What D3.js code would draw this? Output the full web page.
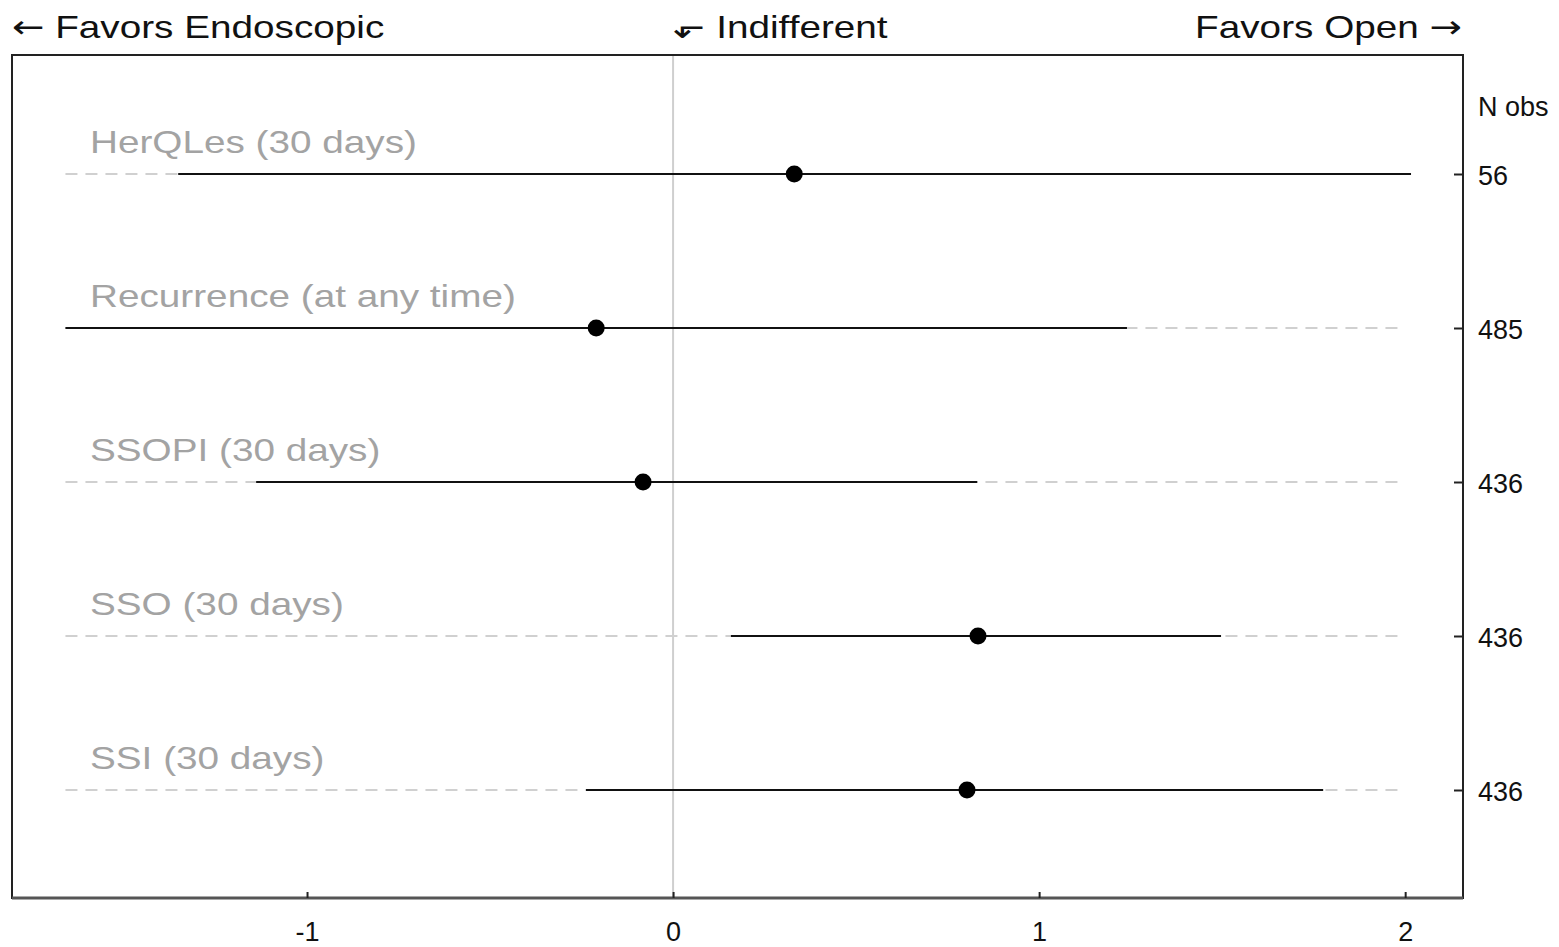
<!DOCTYPE html>
<html><head><meta charset="utf-8">
<script src="https://cdn.jsdelivr.net/npm/d3@7"></script>
<style>body{margin:0;background:#fff}svg{display:block}text{font-family:"Liberation Sans",Arial,sans-serif}</style>
</head><body>
<svg id="c" width="1559" height="947"></svg>
<script>
const outcomes = ["HerQLes (30 days)","Recurrence (at any time)","SSOPI (30 days)","SSO (30 days)","SSI (30 days)"];
const estimates = [0.331,-0.210,-0.082,0.833,0.803];
const lowerCI = [-1.352,-1.66,-1.139,0.158,-0.238];
const upperCI = [2.016,1.240,0.831,1.497,1.776];
const nObs = ["56","485","436","436","436"];
const xTicks = [-1,0,1,2];
const xTickLabels = ["-1","0","1","2"];
const guideRange = [-1.66,2.0];

const svg = d3.select("#c");
const L=12,R=1463,T=55,B=898;
const x = d3.scaleLinear().domain([-1.806,2.158]).range([L,R]);
const y = d3.scalePoint().domain(outcomes).range([174,790]);

function stretchText(px,py,k,parts,size,fill,anchor){
  const t = svg.append("text").attr("transform",`translate(${px},${py}) scale(${k},1)`)
    .attr("font-size",size).attr("fill",fill).attr("text-anchor",anchor||"start");
  (Array.isArray(parts)?parts:[[parts,null]]).forEach(([s,f])=>{
    const ts = t.append("tspan").text(s);
    if(f) ts.style("font-family",f);
  });
  return t;
}

// vertical zero line
svg.append("line").attr("x1",x(0)).attr("x2",x(0)).attr("y1",T).attr("y2",B)
  .attr("stroke","#cfcfcf").attr("stroke-width",2);

// dashed guides
svg.selectAll(".guide").data(outcomes).join("line")
  .attr("x1",x(guideRange[0])).attr("x2",x(guideRange[1]))
  .attr("y1",d=>y(d)).attr("y2",d=>y(d))
  .attr("stroke","#d0d0d0").attr("stroke-width",2).attr("stroke-dasharray","12,8");

// labels
outcomes.forEach(d=>stretchText(90,y(d)-21,1.21,d,32,"#a3a3a3"));

// CI lines
svg.selectAll(".ci").data(outcomes).join("line")
  .attr("x1",(d,i)=>x(lowerCI[i])).attr("x2",(d,i)=>x(upperCI[i]))
  .attr("y1",d=>y(d)).attr("y2",d=>y(d))
  .attr("stroke","#111").attr("stroke-width",2.2);

// points
svg.selectAll(".pt").data(outcomes).join("circle")
  .attr("cx",(d,i)=>x(estimates[i])).attr("cy",d=>y(d)).attr("r",8.5).attr("fill","#000");

// frame
svg.append("rect").attr("x",L).attr("y",T).attr("width",R-L).attr("height",B-T)
  .attr("fill","none").attr("stroke","#222").attr("stroke-width",2);
svg.append("line").attr("x1",L).attr("x2",R).attr("y1",B).attr("y2",B).attr("stroke","#555").attr("stroke-width",3);

// bottom axis
const xa = svg.append("g").attr("transform",`translate(0,${B})`)
  .call(d3.axisBottom(x).tickValues(xTicks).tickSize(-6).tickFormat((d,i)=>xTickLabels[i]));
xa.select(".domain").remove();
xa.selectAll("line").attr("stroke","#222").attr("stroke-width",2);
xa.selectAll("text").attr("y",43).attr("dy",0).attr("font-size",27).attr("fill","#111")
  .style("font-family","Liberation Sans, Arial, sans-serif");

// right axis
const ya = svg.append("g").attr("transform",`translate(${R},0)`)
  .call(d3.axisRight(y).tickSize(-9).tickPadding(15).tickFormat((d,i)=>nObs[i]));
ya.select(".domain").remove();
ya.selectAll("line").attr("stroke","#222").attr("stroke-width",2);
ya.selectAll("text").attr("dy","0.4em").attr("font-size",27).attr("fill","#111")
  .style("font-family","Liberation Sans, Arial, sans-serif");
svg.append("text").attr("x",1478).attr("y",116).attr("font-size",27).attr("fill","#111").text("N obs");

// top annotations
stretchText(12,38,1.21,[["←","DejaVu Sans"],[" Favors Endoscopic",null]],32,"#111");
stretchText(x(0),38,1.21,[["⬐","DejaVu Sans"],[" Indifferent",null]],32,"#111");
stretchText(R-1,38,1.21,[["Favors Open ",null],["→","DejaVu Sans"]],32,"#111","end");
</script>
</body></html>
